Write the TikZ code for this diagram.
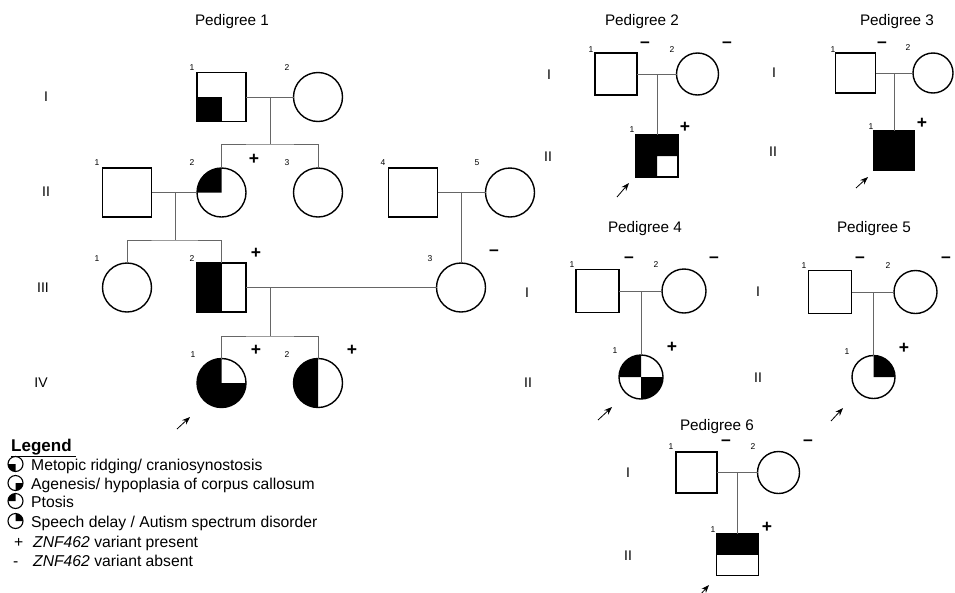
\documentclass[tikz,border=0pt]{standalone}
\usepackage{fontspec}
\setmainfont{Liberation Sans}
\usetikzlibrary{arrows.meta}

\tikzset{
  male/.style={draw, rectangle, line width=1.4pt, inner sep=0pt, outer sep=0pt, minimum size=#1},
  male/.default=49pt,
  female/.style={draw, circle, line width=1.4pt, inner sep=0pt, outer sep=0pt, minimum size=#1},
  female/.default=49pt,
  rel/.style={draw=black!60, line width=0.9pt},
  num/.style={font=\fontsize{8.5}{10}\selectfont, inner sep=0pt},
  geno/.style={font=\fontsize{17.5}{20}\selectfont\bfseries, inner sep=0pt},
  gen/.style={font=\fontsize{14}{16}\selectfont, inner sep=0pt},
  pedtitle/.style={font=\fontsize{15.3}{18}\selectfont, inner sep=0pt, anchor=base},
  legtext/.style={font=\fontsize{15.7}{18}\selectfont, inner sep=0pt, anchor=base west},
  proband/.style={-{Stealth[length=8pt,width=6pt]}, line width=0.8pt},
}

\begin{document}
\begin{tikzpicture}[x=1pt,y=-1pt]
\useasboundingbox (0,0) rectangle (955,592);

% Pedigree 1
\node[pedtitle] (t1) at (232,25) {Pedigree 1};
\node[gen] (g1a) at (46,97) {I};
\node[gen] (g1b) at (46,192) {II};
\node[gen] (g1c) at (43,288) {III};
\node[gen] (g1d) at (41,383) {IV};

\node[male] (p1i1) at (221.5,97) {};
\node[female] (p1i2) at (318,97) {};
\node[male] (p1ii1) at (127,192.5) {};
\node[female] (p1ii2) at (221.5,192.5) {};
\node[female] (p1ii3) at (318,192.5) {};
\node[male] (p1ii4) at (413,192.5) {};
\node[female] (p1ii5) at (510,192.5) {};
\node[female] (p1iii1) at (127,287.5) {};
\node[male] (p1iii2) at (221.5,287.5) {};
\node[female] (p1iii3) at (461,287.5) {};
\node[female] (p1iv1) at (221.5,383) {};
\node[female] (p1iv2) at (318,383) {};

\fill (p1i1.south west) rectangle (p1i1.center);
\fill (p1ii2.center) -- (p1ii2.west) arc[start angle=180, end angle=90, radius=24.5pt] -- cycle;
\fill (p1iii2.south west) rectangle (p1iii2.north);
\fill (p1iv1.center) -- (p1iv1.north) arc[start angle=90, end angle=360, radius=24.5pt] -- cycle;
\fill (p1iv2.north) arc[start angle=90, end angle=270, radius=24.5pt] -- cycle;

\coordinate (p1d1) at (270,97);
\coordinate (p1s1) at (270,144);
\coordinate (p1d2) at (175,192.5);
\coordinate (p1s2) at (175,240);
\coordinate (p1d3) at (461,192.5);
\coordinate (p1d4) at (270,287.5);
\coordinate (p1s4) at (270,336);
\draw[rel] (p1i1) -- (p1i2);
\draw[rel] (p1d1) -- (p1s1);
\draw[rel] (p1ii2.north) |- (p1s1) -| (p1ii3.north);
\draw[rel] (p1ii1) -- (p1ii2);
\draw[rel] (p1d2) -- (p1s2);
\draw[rel] (p1iii1.north) |- (p1s2) -| (p1iii2.north);
\draw[rel] (p1ii4) -- (p1ii5);
\draw[rel] (p1d3) -- (p1iii3.north);
\draw[rel] (p1iii2) -- (p1iii3);
\draw[rel] (p1d4) -- (p1s4);
\draw[rel] (p1iv1.north) |- (p1s4) -| (p1iv2.north);

\node[num] (n1a) at (192,68) {1};
\node[num] (n1b) at (287,68) {2};
\node[num] (n1c) at (97,163) {1};
\node[num] (n1d) at (192,163) {2};
\node[num] (n1e) at (287,163) {3};
\node[num] (n1f) at (383,163) {4};
\node[num] (n1g) at (477,163) {5};
\node[num] (n1h) at (97,259) {1};
\node[num] (n1i) at (192,259) {2};
\node[num] (n1j) at (430,259) {3};
\node[num] (n1k) at (193,355) {1};
\node[num] (n1l) at (287,355) {2};

\node[geno] (v1a) at (254,159) {+};
\node[geno] (v1b) at (256,253) {+};
\node[geno] (v1c) at (494,253) {--};
\node[geno] (v1d) at (256,350) {+};
\node[geno] (v1e) at (352,350) {+};

\coordinate (a1) at (177,429);
\draw[proband] (a1) -- ++(13,-12);

% Pedigree 2
\node[pedtitle] (t2) at (642,25) {Pedigree 2};
\node[gen] (g2a) at (549,75) {I};
\node[gen] (g2b) at (548,157) {II};
\node[male=42pt] (p2i1) at (616,74) {};
\node[female=42pt] (p2i2) at (697.5,74) {};
\node[male=42pt] (p2ii1) at (657,156) {};
\fill (p2ii1.north west) -- (p2ii1.north east) -- (p2ii1.east) -- (p2ii1.center)
  -- (p2ii1.south) -- (p2ii1.south west) -- cycle;
\coordinate (p2d) at (657,74);
\draw[rel] (p2i1) -- (p2i2);
\draw[rel] (p2d) -- (p2ii1.north);
\node[num] (n2a) at (591,50) {1};
\node[num] (n2b) at (672,50) {2};
\node[num] (n2c) at (632,130) {1};
\node[geno] (v2a) at (645,45) {--};
\node[geno] (v2b) at (727,45) {--};
\node[geno] (v2c) at (685,127) {+};
\coordinate (a2) at (617,197);
\draw[proband] (a2) -- ++(12,-14);

% Pedigree 3
\node[pedtitle] (t3) at (897,25) {Pedigree 3};
\node[gen] (g3a) at (774,73) {I};
\node[gen] (g3b) at (773,152) {II};
\node[male=40pt] (p3i1) at (855.5,73) {};
\node[female=40pt] (p3i2) at (933,73) {};
\node[male=40pt, fill=black] (p3ii1) at (894,150.5) {};
\coordinate (p3d) at (894,73);
\draw[rel] (p3i1) -- (p3i2);
\draw[rel] (p3d) -- (p3ii1.north);
\node[num] (n3a) at (833,50) {1};
\node[num] (n3b) at (908,48) {2};
\node[num] (n3c) at (871,127) {1};
\node[geno] (v3a) at (882,45) {--};
\node[geno] (v3b) at (922,123) {+};
\coordinate (a3) at (856,188);
\draw[proband] (a3) -- ++(12,-11);

% Pedigree 4
\node[pedtitle] (t4) at (645,232) {Pedigree 4};
\node[gen] (g4a) at (527,293) {I};
\node[gen] (g4b) at (528,383) {II};
\node[male=43pt] (p4i1) at (597.5,291) {};
\node[female=44pt] (p4i2) at (684,291) {};
\node[female=44pt] (p4ii1) at (641,377) {};
\fill (p4ii1.center) -- (p4ii1.west) arc[start angle=180, end angle=90, radius=22pt] -- cycle;
\fill (p4ii1.center) -- (p4ii1.east) arc[start angle=0, end angle=-90, radius=22pt] -- cycle;
\coordinate (p4d) at (641,291);
\draw[rel] (p4i1) -- (p4i2);
\draw[rel] (p4d) -- (p4ii1.north);
\node[num] (n4a) at (572,265) {1};
\node[num] (n4b) at (656,265) {2};
\node[num] (n4c) at (615,351) {1};
\node[geno] (v4a) at (629,260) {--};
\node[geno] (v4b) at (714,260) {--};
\node[geno] (v4c) at (672,347) {+};
\coordinate (a4) at (598,420);
\draw[proband] (a4) -- ++(14,-13);

% Pedigree 5
\node[pedtitle] (t5) at (874,232) {Pedigree 5};
\node[gen] (g5a) at (758,292) {I};
\node[gen] (g5b) at (758,378) {II};
\node[male=43pt] (p5i1) at (830,292) {};
\node[female=43pt] (p5i2) at (915.5,292) {};
\node[female=43pt] (p5ii1) at (873.5,377) {};
\fill (p5ii1.center) -- (p5ii1.east) arc[start angle=0, end angle=90, radius=21.5pt] -- cycle;
\coordinate (p5d) at (873.5,292);
\draw[rel] (p5i1) -- (p5i2);
\draw[rel] (p5d) -- (p5ii1.north);
\node[num] (n5a) at (804,266) {1};
\node[num] (n5b) at (888,266) {2};
\node[num] (n5c) at (847,352) {1};
\node[geno] (v5a) at (860,260) {--};
\node[geno] (v5b) at (946,260) {--};
\node[geno] (v5c) at (904,348) {+};
\coordinate (a5) at (831,421);
\draw[proband] (a5) -- ++(12,-13);

% Pedigree 6
\node[pedtitle] (t6) at (717,430) {Pedigree 6};
\node[gen] (g6a) at (628,473) {I};
\node[gen] (g6b) at (628,556) {II};
\node[male=41pt] (p6i1) at (696.5,472.5) {};
\node[female=42pt] (p6i2) at (778.5,472.5) {};
\node[male=42pt] (p6ii1) at (737.5,554.5) {};
\fill (p6ii1.north west) rectangle (p6ii1.east);
\coordinate (p6d) at (737.5,472.5);
\draw[rel] (p6i1) -- (p6i2);
\draw[rel] (p6d) -- (p6ii1.north);
\node[num] (n6a) at (671,447) {1};
\node[num] (n6b) at (753,447) {2};
\node[num] (n6c) at (713,530) {1};
\node[geno] (v6a) at (726,443) {--};
\node[geno] (v6b) at (808,443) {--};
\node[geno] (v6c) at (767,527) {+};
\coordinate (a6) at (700,595);
\draw[proband] (a6) -- ++(9,-10);

% Legend
\node[legtext, font=\fontsize{17}{20}\selectfont\bfseries] (leg) at (11,451) {\underline{Legend\ }};
\node[female=15pt, line width=1.1pt] (lc1) at (15.5,464) {};
\node[female=15pt, line width=1.1pt] (lc2) at (15.5,483) {};
\node[female=15pt, line width=1.1pt] (lc3) at (15.5,501) {};
\node[female=15pt, line width=1.1pt] (lc4) at (15.5,521) {};
\fill (lc1.center) -- (lc1.west) arc[start angle=180, end angle=270, radius=7.5pt] -- cycle;
\fill (lc2.center) -- (lc2.south) arc[start angle=270, end angle=360, radius=7.5pt] -- cycle;
\fill (lc3.center) -- (lc3.west) arc[start angle=180, end angle=90, radius=7.5pt] -- cycle;
\fill (lc4.center) -- (lc4.east) arc[start angle=0, end angle=90, radius=7.5pt] -- cycle;
\node[legtext] (lt1) at (31,470) {Metopic ridging/ craniosynostosis};
\node[legtext] (lt2) at (31,489) {Agenesis/ hypoplasia of corpus callosum};
\node[legtext] (lt3) at (31,507) {Ptosis};
\node[legtext] (lt4) at (31,527) {Speech delay / Autism spectrum disorder};
\node[legtext] (lp) at (14,547) {+};
\node[legtext] (lm) at (13,566) {-};
\node[legtext] (lt5) at (33,547) {\textit{ZNF462} variant present};
\node[legtext] (lt6) at (33,566) {\textit{ZNF462} variant absent};
\end{tikzpicture}
\end{document}
